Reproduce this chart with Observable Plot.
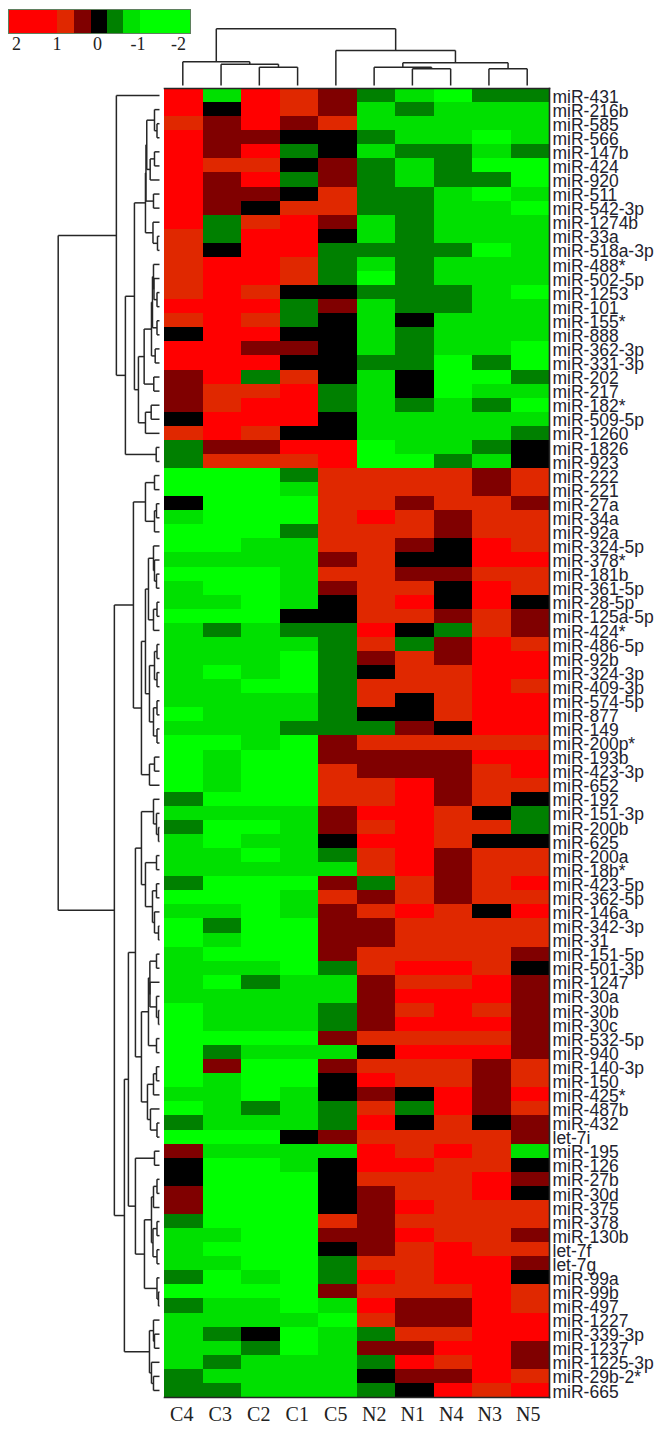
<!DOCTYPE html>
<html>
<head>
<meta charset="utf-8">
<script src="https://cdn.jsdelivr.net/npm/d3@7"></script>
<script src="https://cdn.jsdelivr.net/npm/@observablehq/plot@0.6"></script>
<style>
html,body{margin:0;padding:0;background:#fff}
#page{position:relative;width:659px;height:1429px;overflow:hidden;background:#fff}
#page svg{position:absolute;left:0;top:0;max-width:none}
</style>
</head>
<body>
<div id="page"></div>
<script>
// Expression levels used in the picture (log2 ratio bins)
const R=2,o=1,d=.5,k=0,g=-.5,m=-1,G=-2;

const samples=["C4","C3","C2","C1","C5","N2","N1","N4","N3","N5"];
const mirnas=["miR-431","miR-216b","miR-585","miR-566","miR-147b","miR-424","miR-920","miR-511","miR-542-3p","miR-1274b","miR-33a","miR-518a-3p","miR-488*","miR-502-5p","miR-1253","miR-101","miR-155*","miR-888","miR-362-3p","miR-331-3p","miR-202","miR-217","miR-182*","miR-509-5p","miR-1260","miR-1826","miR-923","miR-222","miR-221","miR-27a","miR-34a","miR-92a","miR-324-5p","miR-378*","miR-181b","miR-361-5p","miR-28-5p","miR-125a-5p","miR-424*","miR-486-5p","miR-92b","miR-324-3p","miR-409-3p","miR-574-5p","miR-877","miR-149","miR-200p*","miR-193b","miR-423-3p","miR-652","miR-192","miR-151-3p","miR-200b","miR-625","miR-200a","miR-18b*","miR-423-5p","miR-362-5p","miR-146a","miR-342-3p","miR-31","miR-151-5p","miR-501-3p","miR-1247","miR-30a","miR-30b","miR-30c","miR-532-5p","miR-940","miR-140-3p","miR-150","miR-425*","miR-487b","miR-432","let-7i","miR-195","miR-126","miR-27b","miR-30d","miR-375","miR-378","miR-130b","let-7f","let-7g","miR-99a","miR-99b","miR-497","miR-1227","miR-339-3p","miR-1237","miR-1225-3p","miR-29b-2*","miR-665"];

const expression=[
[R,m,R,o,d,g,m,G,g,g],
[R,k,R,o,d,m,g,m,m,m],
[o,d,R,d,o,m,m,m,m,m],
[R,d,d,k,k,g,m,m,G,m],
[R,d,R,g,k,m,g,g,m,g],
[R,o,o,k,d,g,m,g,G,G],
[R,d,R,g,d,g,m,g,g,G],
[R,d,d,k,o,g,g,m,G,m],
[R,d,k,o,o,g,g,m,m,G],
[R,g,o,R,d,m,g,m,m,m],
[o,g,R,R,k,m,g,m,m,m],
[o,k,R,R,g,g,g,g,G,m],
[o,R,R,o,g,m,g,m,m,m],
[o,R,R,o,g,G,g,m,m,m],
[o,R,o,k,k,g,g,g,m,G],
[R,R,R,g,d,m,g,g,m,m],
[o,R,o,g,k,m,k,m,m,m],
[k,R,R,k,k,m,g,m,m,m],
[R,R,d,d,k,m,g,m,m,G],
[R,R,R,k,k,g,g,G,g,G],
[d,R,g,o,k,m,k,G,G,g],
[d,o,o,R,g,m,k,G,m,m],
[d,o,R,R,g,m,g,m,g,G],
[k,R,R,R,k,m,m,m,m,m],
[o,R,o,k,k,m,m,m,m,g],
[g,d,d,R,R,G,m,m,g,k],
[g,o,o,o,R,G,G,g,m,k],
[G,G,G,g,o,o,o,o,d,o],
[G,G,G,m,o,o,o,o,d,o],
[k,G,G,G,o,o,d,o,o,d],
[m,G,G,G,o,R,o,d,o,o],
[G,G,G,g,o,o,o,d,o,o],
[G,G,m,m,o,o,d,k,R,o],
[m,m,m,m,d,o,k,k,R,R],
[G,G,G,m,o,o,d,d,o,o],
[m,G,G,m,d,o,o,k,R,o],
[m,m,G,m,k,o,R,k,R,k],
[G,G,G,k,k,o,o,d,o,d],
[m,g,m,g,g,R,k,g,o,d],
[m,m,m,m,g,o,g,d,R,o],
[m,m,m,G,g,d,o,d,R,R],
[m,G,m,G,g,k,o,o,R,R],
[m,m,G,G,g,o,o,o,R,o],
[m,m,m,m,g,o,k,o,R,R],
[G,m,m,m,g,k,k,o,R,R],
[m,m,m,g,g,g,d,k,R,R],
[G,G,m,G,d,o,o,o,o,o],
[G,m,G,G,d,d,d,d,R,R],
[G,m,G,G,o,d,d,d,o,R],
[G,m,G,G,o,o,R,d,o,o],
[g,G,G,G,o,o,R,d,o,k],
[m,m,m,m,d,R,R,o,k,g],
[g,G,G,m,d,o,R,o,o,g],
[m,G,m,m,k,R,R,o,k,k],
[m,m,G,m,g,o,R,d,o,o],
[m,m,m,m,m,o,R,d,o,o],
[g,G,G,G,d,g,o,d,o,R],
[G,G,G,m,o,d,o,d,o,o],
[m,m,G,m,d,o,R,o,k,R],
[G,g,G,G,d,d,o,o,o,o],
[G,m,G,G,d,d,o,o,o,o],
[m,G,G,G,d,o,o,o,o,d],
[m,m,m,G,g,o,R,R,o,k],
[m,G,g,m,m,d,o,o,R,d],
[m,m,m,m,m,d,R,R,R,d],
[G,m,m,m,g,d,o,R,o,d],
[G,m,m,m,g,d,R,R,R,d],
[G,G,G,G,d,o,o,o,o,d],
[G,g,m,m,m,k,R,R,R,d],
[G,d,G,G,d,o,o,o,d,o],
[G,m,G,G,k,R,o,o,d,o],
[m,m,G,m,k,d,k,R,d,R],
[G,m,g,m,g,o,g,R,d,o],
[g,m,m,m,g,R,k,o,k,d],
[G,G,G,k,d,o,o,o,o,d],
[d,m,m,m,m,R,o,R,o,m],
[k,G,G,m,k,R,R,o,o,k],
[k,G,G,G,k,o,o,o,R,d],
[d,G,G,G,k,d,o,o,R,k],
[d,G,G,G,k,d,R,o,o,o],
[g,G,G,G,o,d,o,o,o,o],
[m,m,G,G,d,d,R,o,o,d],
[m,G,G,G,k,d,o,R,o,o],
[m,m,G,G,g,o,o,R,R,d],
[g,G,m,G,g,R,o,R,R,k],
[G,G,G,G,d,o,o,o,R,o],
[g,m,m,G,m,R,d,d,R,o],
[m,m,m,m,G,o,d,d,R,R],
[m,g,k,G,m,g,o,o,R,R],
[m,m,g,G,m,d,d,R,R,d],
[m,g,m,m,m,g,R,o,R,d],
[g,m,m,m,m,k,d,d,R,o],
[g,g,m,m,m,g,k,R,o,R]
];

// Palette and legend bins
const levelDomain=[-1.5,-.75,-.25,.25,.75,1.5];
const levelColors=["#00ff00","#00e000","#008000","#000000","#800000","#e02800","#ff0000"];
const legendEdges=[2.2,.99,.57,.15,-.25,-.64,-1.06,-2.3];
const legendLevels=[R,o,d,k,g,m,G];
const legendTicks=[2,1,0,-1,-2];

// Dendrograms: [merge height, childA, childB]; leaves are 1-based row numbers / column numbers
const rowTree=[101,
 [43,1,
  [34,
   [25,
    [14,
     [13.5,
      [12.7,[5,2,[2.5,3,4]],[9.3,[5,5,6],7]],
      [6,8,9]],
     [6.5,10,[2,11,12]]],
    [21,
     [15.3,
      [8,[7,[6,13,[5.5,14,[2.5,15,16]]],[2.5,17,18]],[4.3,19,20]],
      [5.7,21,22]],
     [14,[8.3,23,24],25]]],
   [3.3,26,27]]],
 [45,
  [26,
   [14,[5,28,29],[5,[3,30,31],32]],
   [18,
    [14,
     [11,[6,33,[5,34,[3,35,36]]],[6,[2.5,37,38],39]],
     [10,[5,[2.5,40,41],[2.5,42,43]],[6,[2.5,44,45],[2.5,46,47]]]],
    [10,[5,48,49],50]]],
  [35,
   [31,
    [24,
     [18,[6,51,[3,52,[1,53,54]]],[14,[3,55,56],[7,[3,57,58],[5,59,[1,60,61]]]]],
     [18,
      [11,[9.6,[3,62,63],[9.5,64,[3,65,[1,66,67]]]],[3,68,69]],
      [12,[6,[3,70,71],72],[9,73,[2.5,74,75]]]]],
    [24,[5,76,77],
     [15,
      [8,[6,[2.5,78,79],80],[6.5,[2.5,81,82],[2.5,83,84]]],
      [2.5,85,[1,86,87]]]]],
   [10,[6,88,[5,89,90]],[8,91,[6,92,93]]]]]];

const colTree=[56.7,
 [23.7,1,[21.3,2,[18.3,3,4]]],
 [35,5,
  [22.7,
   [18.3,6,[16.7,7,8]],
   [16.7,9,10]]]];

// Flatten a merge tree into segments {h1,p1,h2,p2} (height and leaf position)
function segments(tree){
  const out=[];
  function walk(n){
    if(typeof n==="number") return {p:n-.5,h:0};
    const [h,a,b]=n, A=walk(a), B=walk(b), p=(A.p+B.p)/2;
    out.push({h1:A.h,p1:A.p,h2:h,p2:A.p});
    out.push({h1:B.h,p1:B.p,h2:h,p2:B.p});
    out.push({h1:h,p1:A.p,h2:h,p2:B.p});
    return {p,h};
  }
  walk(tree);
  return out;
}

const page=document.getElementById("page");
const transparent={background:"transparent",overflow:"visible"};
const lineColor="#262626";
const W=659,H=1429;

// Heatmap
const cells=[];
expression.forEach((row,i)=>row.forEach((v,j)=>cells.push({mirna:mirnas[i],sample:samples[j],value:v})));
page.append(Plot.plot({
  width:W,height:H,marginLeft:164,marginRight:110,marginTop:88,marginBottom:32,style:transparent,
  x:{domain:samples,padding:0,round:false,label:null,axis:null},
  y:{domain:mirnas,padding:0,round:false,label:null,axis:null},
  color:{type:"threshold",domain:levelDomain,range:levelColors},
  marks:[
    Plot.cell(cells,{x:"sample",y:"mirna",fill:"value",shapeRendering:"crispEdges"}),
    Plot.frame({anchor:"top",stroke:lineColor,strokeWidth:1.6}),
    Plot.frame({anchor:"right",stroke:lineColor,strokeWidth:1.6}),
    Plot.frame({anchor:"bottom",stroke:lineColor,strokeWidth:1.6}),
    Plot.axisY({anchor:"right",tickSize:0,tickPadding:3,fontSize:17.5,fontFamily:"Liberation Sans",fill:"#23232e",label:null,dy:1.5}),
    Plot.axisX({anchor:"bottom",tickSize:0,tickPadding:9,dx:-2,fontSize:20,fontFamily:"Liberation Serif",fill:"#222",label:null})
  ]
}));

// Row dendrogram
page.append(Plot.plot({
  width:W,height:H,margin:0,style:transparent,
  x:{domain:[101,0],range:[57.7,159],axis:null},
  y:{domain:[0,mirnas.length],range:[88,1397],axis:null},
  marks:[Plot.link(segments(rowTree),{x1:"h1",y1:"p1",x2:"h2",y2:"p2",stroke:lineColor,strokeWidth:1.5,curve:"linear"})]
}));

// Column dendrogram
page.append(Plot.plot({
  width:W,height:H,margin:0,style:transparent,
  x:{domain:[0,9],range:[182.3,526.7],axis:null},
  y:{domain:[0,56.7],range:[85,28.3],axis:null},
  marks:[Plot.link(segments(colTree),{x1:s=>s.p1-.5,y1:"h1",x2:s=>s.p2-.5,y2:"h2",stroke:lineColor,strokeWidth:1.5,curve:"linear"})]
}));

// Colour key
const legendBins=legendLevels.map((v,i)=>({x1:legendEdges[i],x2:legendEdges[i+1],value:v}));
page.append(Plot.plot({
  width:W,height:60,marginTop:9,marginBottom:27,marginLeft:8,marginRight:469,style:transparent,
  x:{domain:[2,-2],range:[16,178],label:null,axis:null},
  y:{domain:[0,1],axis:null},
  color:{type:"threshold",domain:levelDomain,range:levelColors},
  marks:[
    Plot.rectY(legendBins,{x1:"x1",x2:"x2",y1:0,y2:1,fill:"value",shapeRendering:"crispEdges"}),
    Plot.frame({stroke:"#5f7f5f",strokeWidth:1}),
    Plot.axisX({ticks:legendTicks,anchor:"bottom",tickSize:0,tickPadding:4,tickFormat:t=>t,fontSize:18,fontFamily:"Liberation Serif",fill:"#222",label:null})
  ]
}));
</script>
</body>
</html>
